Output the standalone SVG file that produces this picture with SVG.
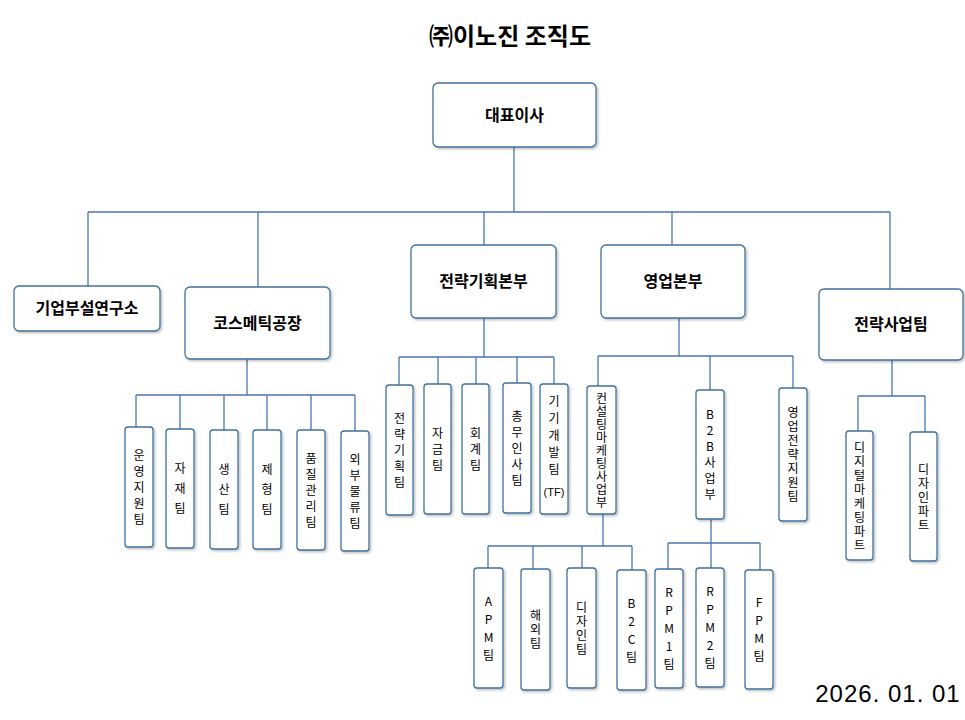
<svg xmlns="http://www.w3.org/2000/svg" width="965" height="720" viewBox="0 0 965 720">
<defs>
<filter id="sh" x="-20%" y="-20%" width="140%" height="140%"><feDropShadow dx="1.5" dy="1.5" stdDeviation="1" flood-color="#000" flood-opacity="0.25"/></filter>
</defs>
<style>
.b{fill:#fff;stroke:#41719c;stroke-width:1.3;filter:url(#sh)}
.m{font-family:"Noto Sans CJK KR","Noto Sans",sans-serif;font-size:16px;font-weight:bold;text-anchor:middle;fill:#000}
.v{font-family:"Noto Sans CJK KR","Liberation Sans",sans-serif;font-size:12px;text-anchor:middle;fill:#000;writing-mode:vertical-rl;text-orientation:upright}
.c{stroke:#4a76ae;stroke-width:1.3;fill:none}
</style>
<rect width="965" height="720" fill="#fff"/>
<text x="510" y="45" font-family="Noto Sans CJK KR, sans-serif" font-size="24" font-weight="bold" text-anchor="middle">㈜이노진 조직도</text>
<text x="888" y="702" font-family="Liberation Sans, sans-serif" font-size="24" letter-spacing="1" text-anchor="middle">2026. 01. 01</text>
<g id="connectors" class="c">
<path d="M514 147V212M88 212H890M88 212V286M258 212V287M484 212V245M672 212V245M890 212V289"/>
<path d="M247 359V395M136 395H355M136 395V427M180 395V429M224 395V430M267 395V430M311 395V430M355 395V431"/>
<path d="M484 318V357M399 357H554M399 357V385M438 357V384M476 357V384M517 357V383M554 357V384"/>
<path d="M679 318V356M598 356H793M598 356V386M710 356V390M793 356V388"/>
<path d="M603 514V546M488 546H632M488 546V568M533 546V569M582 546V568M632 546V570"/>
<path d="M711 519V543M668 543H760M668 543V569M711 543V568M760 543V570"/>
<path d="M892 360V396M858 396H925M858 396V431M925 396V432"/>
</g>
<g id="ceo"><rect class="b" x="433" y="83" width="163" height="64" rx="5"/><text class="m" x="514.5" y="121">대표이사</text></g>
<g id="lab"><rect class="b" x="14" y="286" width="146" height="45" rx="5"/><text class="m" x="87" y="314">기업부설연구소</text></g>
<g id="factory"><rect class="b" x="185" y="287" width="145" height="72" rx="5"/><text class="m" x="257.5" y="329">코스메틱공장</text></g>
<g id="strategy"><rect class="b" x="411" y="245" width="145" height="73" rx="5"/><text class="m" x="483.5" y="287">전략기획본부</text></g>
<g id="sales"><rect class="b" x="601" y="245" width="144" height="73" rx="5"/><text class="m" x="673" y="287">영업본부</text></g>
<g id="biz"><rect class="b" x="819" y="289" width="144" height="71" rx="5"/><text class="m" x="891" y="330">전략사업팀</text></g>

<g id="n1"><rect class="b" x="125" y="427" width="28" height="120" rx="3"/><text class="v" x="139" y="489" letter-spacing="4">운영지원팀</text></g>
<g id="n2"><rect class="b" x="166" y="429" width="28" height="119" rx="3"/><text class="v" x="180" y="492" letter-spacing="8">자재팀</text></g>
<g id="n3"><rect class="b" x="210" y="430" width="28" height="119" rx="3"/><text class="v" x="224" y="493" letter-spacing="8">생산팀</text></g>
<g id="n4"><rect class="b" x="253" y="430" width="28" height="119" rx="3"/><text class="v" x="267" y="493" letter-spacing="8">제형팀</text></g>
<g id="n5"><rect class="b" x="297" y="430" width="28" height="120" rx="3"/><text class="v" x="311" y="492" letter-spacing="4">품질관리팀</text></g>
<g id="n6"><rect class="b" x="341" y="431" width="28" height="120" rx="3"/><text class="v" x="355" y="493" letter-spacing="4">외부물류팀</text></g>

<g id="s1"><rect class="b" x="386" y="385" width="27" height="130" rx="3"/><text class="v" x="399.5" y="452" letter-spacing="4">전략기획팀</text></g>
<g id="s2"><rect class="b" x="424" y="384" width="27" height="130" rx="3"/><text class="v" x="437.5" y="451" letter-spacing="4">자금팀</text></g>
<g id="s3"><rect class="b" x="462" y="384" width="27" height="130" rx="3"/><text class="v" x="475.5" y="451" letter-spacing="4">회계팀</text></g>
<g id="s4"><rect class="b" x="503" y="383" width="28" height="130" rx="3"/><text class="v" x="517" y="450" letter-spacing="4">총무인사팀</text></g>
<g id="s5"><rect class="b" x="540" y="384" width="28" height="130" rx="3"/><text class="v" x="554" y="438" letter-spacing="5">기기개발팀</text><text x="554" y="496" font-family="Liberation Sans, sans-serif" font-size="11" text-anchor="middle">(TF)</text></g>

<g id="e1"><rect class="b" x="587" y="386" width="29" height="128" rx="3"/><text class="v" x="601.5" y="451" letter-spacing="1">컨설팅마케팅사업부</text></g>
<g id="e2"><rect class="b" x="696" y="390" width="28" height="129" rx="3"/><text class="v" x="710" y="456" letter-spacing="4">B2B사업부</text></g>
<g id="e3"><rect class="b" x="779" y="388" width="28" height="133" rx="3"/><text class="v" x="793" y="455" letter-spacing="2">영업전략지원팀</text></g>

<g id="c1"><rect class="b" x="474" y="568" width="29" height="120" rx="3"/><text class="v" x="488.5" y="631" letter-spacing="6">APM팀</text></g>
<g id="c2"><rect class="b" x="521" y="569" width="29" height="121" rx="3"/><text class="v" x="535.5" y="630" letter-spacing="2">해외팀</text></g>
<g id="c3"><rect class="b" x="567" y="568" width="29" height="120" rx="3"/><text class="v" x="581.5" y="629" letter-spacing="2">디자인팀</text></g>
<g id="c4"><rect class="b" x="617" y="570" width="29" height="120" rx="3"/><text class="v" x="631.5" y="633" letter-spacing="6">B2C팀</text></g>
<g id="b1"><rect class="b" x="655" y="569" width="28" height="119" rx="3"/><text class="v" x="669" y="631" letter-spacing="6">RPM1팀</text></g>
<g id="b2"><rect class="b" x="696" y="568" width="28" height="119" rx="3"/><text class="v" x="710" y="630" letter-spacing="6">RPM2팀</text></g>
<g id="b3"><rect class="b" x="745" y="570" width="28" height="119" rx="3"/><text class="v" x="759" y="632" letter-spacing="6">FPM팀</text></g>

<g id="d1"><rect class="b" x="846" y="431" width="27" height="129" rx="3"/><text class="v" x="859.5" y="497" letter-spacing="2">디지털마케팅파트</text></g>
<g id="d2"><rect class="b" x="910" y="432" width="27" height="129" rx="3"/><text class="v" x="923.5" y="498" letter-spacing="2">디자인파트</text></g>
</svg>
